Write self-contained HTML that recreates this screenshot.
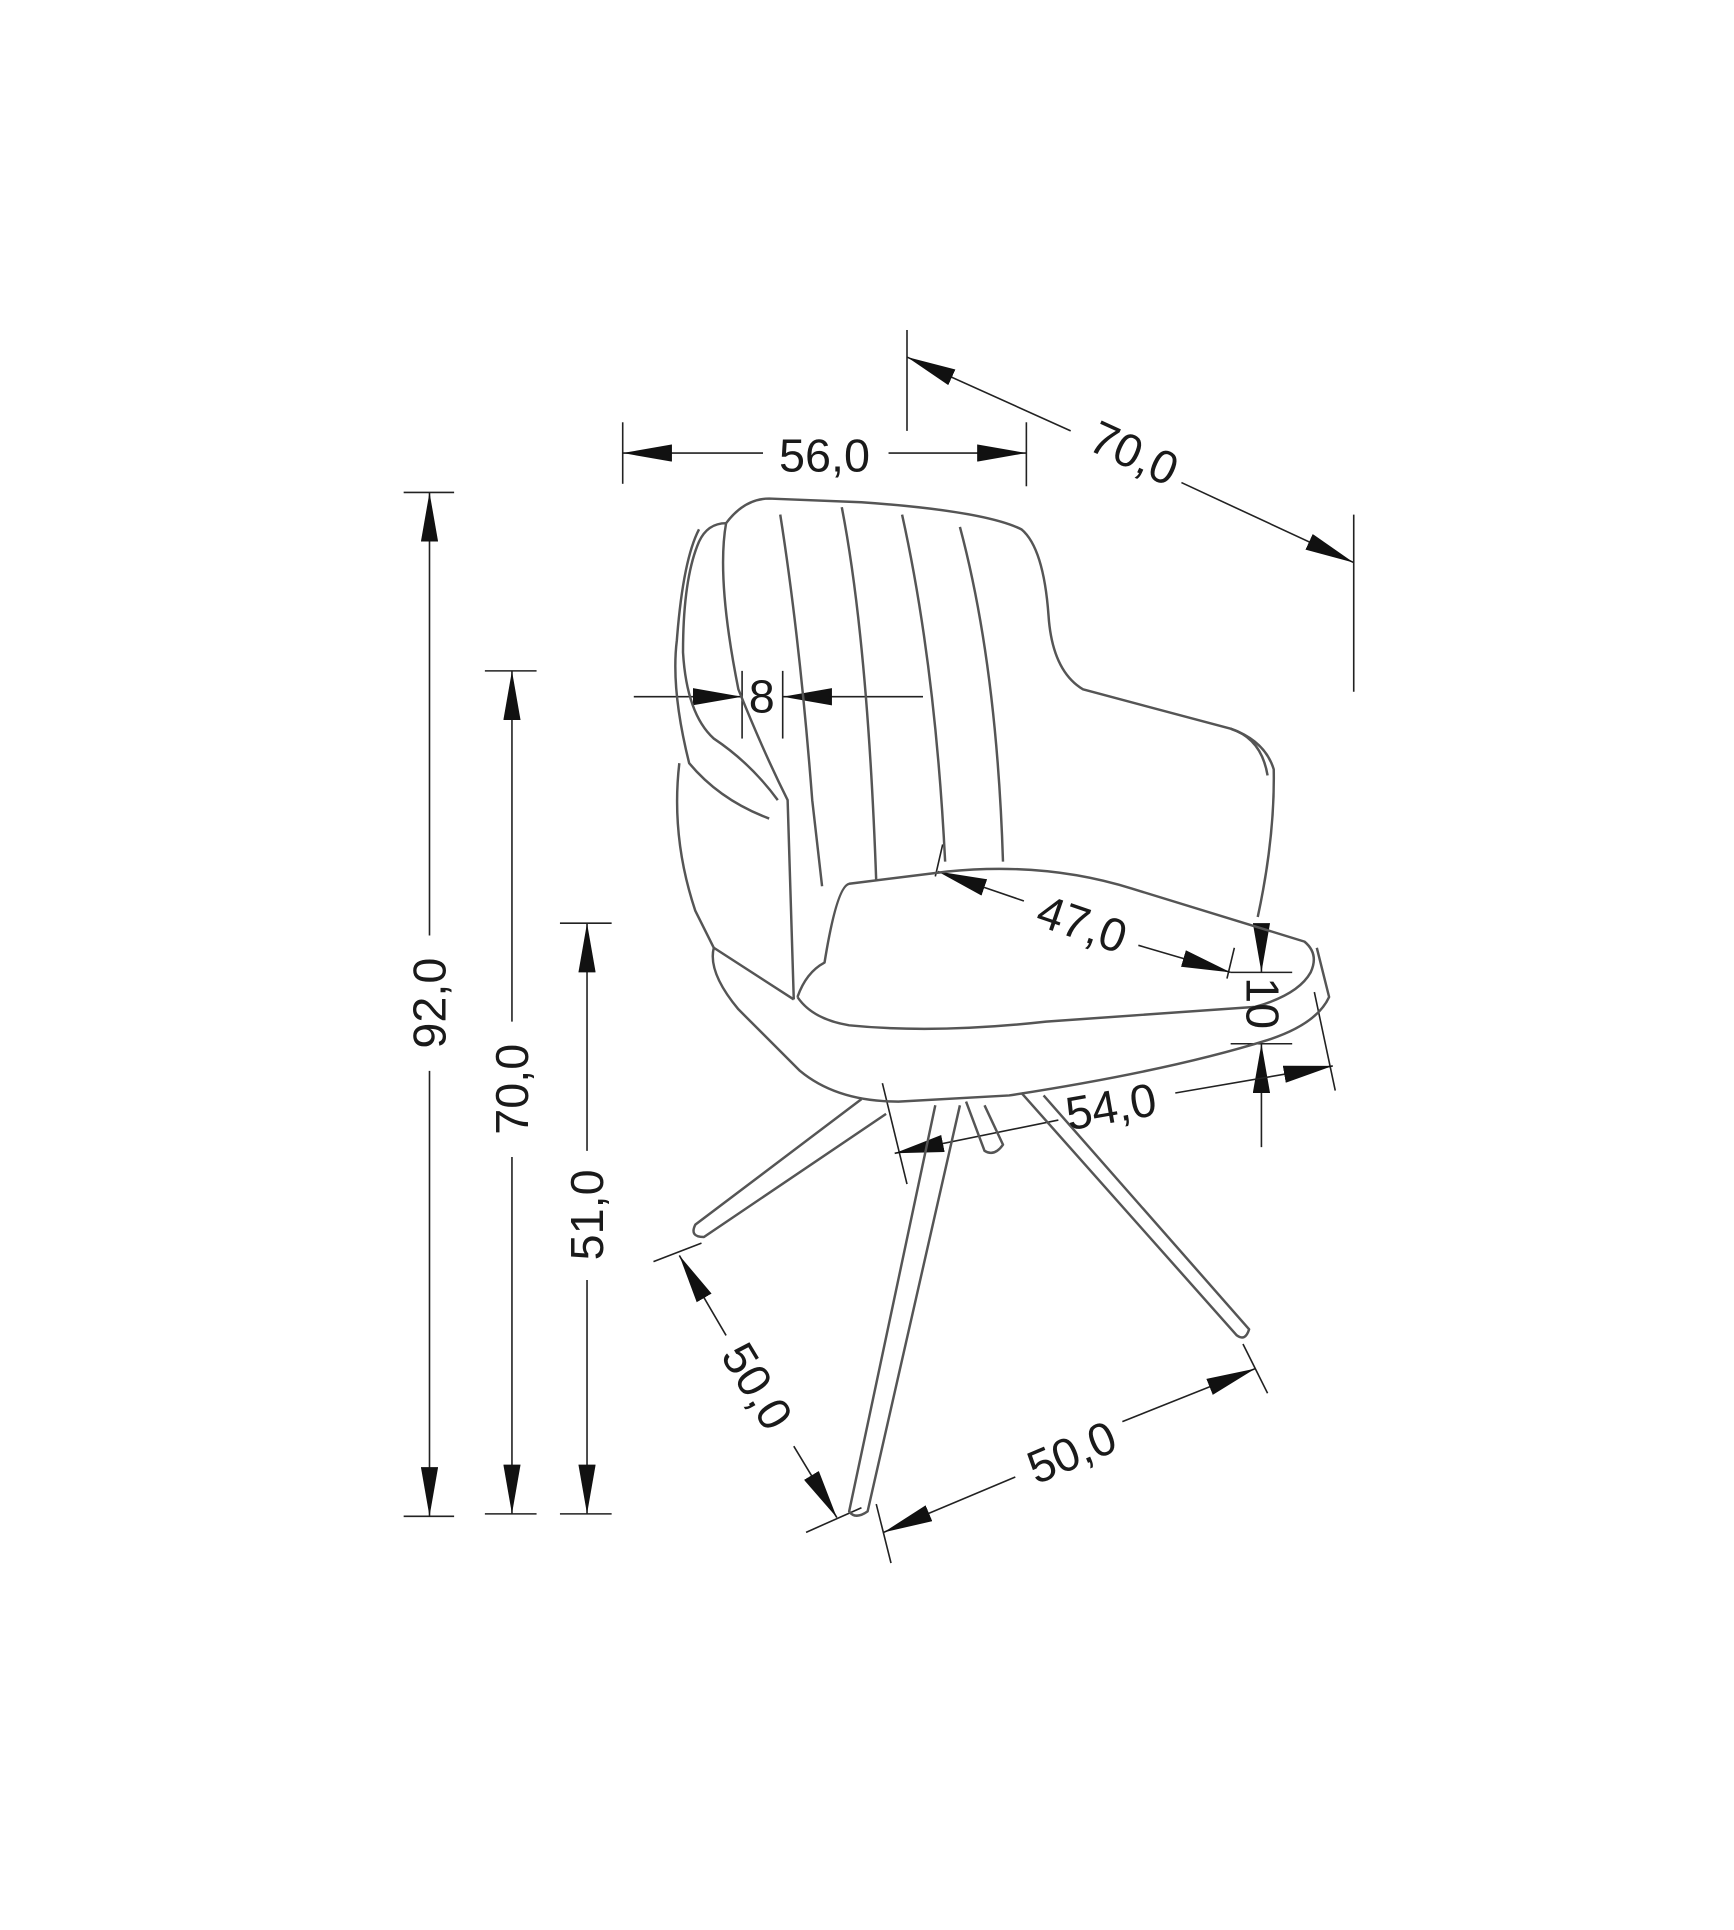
<!DOCTYPE html>
<html><head><meta charset="utf-8"><style>
html,body{margin:0;padding:0;background:#fff;}
svg{display:block;}
text{font-family:"Liberation Sans",sans-serif;font-size:38px;fill:#1a1a1a;}
</style></head><body>
<svg width="1734" height="1930" viewBox="0 0 1409 1568" xmlns="http://www.w3.org/2000/svg">
<defs>
<marker id="a" viewBox="0 0 40 14" refX="40" refY="7" markerWidth="40" markerHeight="14" markerUnits="userSpaceOnUse" orient="auto"><path d="M0,0 L40,7 L0,14 Z" fill="#111"/></marker>
</defs>
<rect width="1409" height="1568" fill="#fff"/>
<g stroke="#222" stroke-width="1.3" fill="none">
<!-- 92 -->
<line x1="328" y1="400" x2="369" y2="400"/><line x1="328" y1="1232" x2="369" y2="1232"/>
<line x1="349" y1="760" x2="349" y2="400" marker-end="url(#a)"/><line x1="349" y1="870" x2="349" y2="1232" marker-end="url(#a)"/>
<!-- 70 vertical -->
<line x1="394" y1="545" x2="436" y2="545"/><line x1="394" y1="1230" x2="436" y2="1230"/>
<line x1="416" y1="830" x2="416" y2="545" marker-end="url(#a)"/><line x1="416" y1="940" x2="416" y2="1230" marker-end="url(#a)"/>
<!-- 51 -->
<line x1="455" y1="750" x2="497" y2="750"/><line x1="455" y1="1230" x2="497" y2="1230"/>
<line x1="477" y1="935" x2="477" y2="750" marker-end="url(#a)"/><line x1="477" y1="1040" x2="477" y2="1230" marker-end="url(#a)"/>
<!-- 56 -->
<line x1="506" y1="343" x2="506" y2="393"/><line x1="834" y1="343" x2="834" y2="395"/>
<line x1="620" y1="368" x2="506" y2="368" marker-end="url(#a)"/><line x1="722" y1="368" x2="834" y2="368" marker-end="url(#a)"/>
<!-- 70 diagonal -->
<line x1="737" y1="268" x2="737" y2="350"/><line x1="1100" y1="418" x2="1100" y2="562"/>
<line x1="870" y1="350" x2="737" y2="290" marker-end="url(#a)"/><line x1="960" y1="392" x2="1100" y2="457" marker-end="url(#a)"/>
<!-- 8 -->
<line x1="603" y1="545" x2="603" y2="600"/><line x1="636" y1="545" x2="636" y2="600"/>
<line x1="515" y1="566" x2="603" y2="566" marker-end="url(#a)"/><line x1="750" y1="566" x2="636" y2="566" marker-end="url(#a)"/>
<!-- 47 -->
<line x1="766" y1="686" x2="760" y2="712"/><line x1="1003" y1="770" x2="997" y2="795"/>
<line x1="832" y1="732" x2="762" y2="708" marker-end="url(#a)"/><line x1="925" y1="768" x2="1000" y2="790" marker-end="url(#a)"/>
<!-- 10 -->
<line x1="1000" y1="790" x2="1050" y2="790"/><line x1="1000" y1="848" x2="1050" y2="848"/>
<line x1="1025" y1="755" x2="1025" y2="790" marker-end="url(#a)"/><line x1="1025" y1="932" x2="1025" y2="848" marker-end="url(#a)"/>
<!-- 54 -->
<line x1="717" y1="880" x2="737" y2="962"/><line x1="1068" y1="806" x2="1085" y2="886"/>
<line x1="860" y1="910" x2="727" y2="937" marker-end="url(#a)"/><line x1="955" y1="888" x2="1083" y2="866" marker-end="url(#a)"/>
<!-- 50 left -->
<line x1="531" y1="1025" x2="570" y2="1010"/><line x1="655" y1="1245" x2="700" y2="1225"/>
<line x1="590" y1="1085" x2="552" y2="1020" marker-end="url(#a)"/><line x1="645" y1="1175" x2="680" y2="1233" marker-end="url(#a)"/>
<!-- 50 right -->
<line x1="712" y1="1222" x2="724" y2="1270"/><line x1="1010" y1="1092" x2="1030" y2="1132"/>
<line x1="825" y1="1200" x2="718" y2="1245" marker-end="url(#a)"/><line x1="912" y1="1155" x2="1020" y2="1112" marker-end="url(#a)"/>
</g>
<!-- chair -->
<g stroke="#555" stroke-width="2" fill="none" stroke-linejoin="round">
<path d="M590,425 Q605,405 625,405 L700,408 Q800,415 830,430 Q848,445 852,500 Q855,545 880,560 L1000,592 Q1028,602 1035,625 Q1036,680 1022,745"/>
<path d="M590,425 Q582,470 600,560 Q620,610 640,650 L645,812"/>
<path d="M590,425 Q575,425 568,440 Q555,470 555,530 Q558,580 580,600 Q610,620 632,650"/>
<path d="M568,430 Q555,455 550,520 Q545,560 560,620 Q585,650 625,665"/>
<path d="M552,620 Q545,680 565,740 L580,770 L645,812"/>
<path d="M580,770 Q575,790 600,820 L650,870 Q680,895 730,895 L820,890 Q950,870 1030,845 Q1070,832 1080,810 L1070,770"/>
<path d="M648,810 Q655,790 670,782 Q680,720 690,718 L770,708 Q850,700 920,722 L1060,765 Q1072,775 1065,790 Q1055,808 1020,818 L850,830 Q760,840 690,833 Q660,828 648,810"/>
<path d="M634,418 Q650,520 660,650 L668,720"/>
<path d="M684,412 Q705,520 712,716"/>
<path d="M733,418 Q760,540 768,700"/>
<path d="M780,428 Q810,540 815,700"/>
<path d="M1000,592 Q1025,600 1030,630"/>
<!-- legs -->
<path d="M700,893 L565,995 Q560,1005 572,1005 L720,905"/>
<path d="M760,898 L690,1228 Q695,1235 705,1228 L780,898"/>
<path d="M830,888 L1005,1085 Q1012,1090 1015,1080 L848,890"/>
<path d="M785,895 L800,935 Q808,940 815,930 L800,898"/>
</g>
<text x="670" y="383" text-anchor="middle">56,0</text>
<text transform="translate(916,380) rotate(24.7)" text-anchor="middle">70,0</text>
<text x="619" y="579" text-anchor="middle">8</text>
<text transform="translate(875,763) rotate(19)" text-anchor="middle">47,0</text>
<text transform="translate(1013,815) rotate(90)" text-anchor="middle">10</text>
<text transform="translate(905,912) rotate(-10)" text-anchor="middle">54,0</text>
<text transform="translate(362,815) rotate(-90)" text-anchor="middle">92,0</text>
<text transform="translate(429,885) rotate(-90)" text-anchor="middle">70,0</text>
<text transform="translate(490,987) rotate(-90)" text-anchor="middle">51,0</text>
<text transform="translate(604,1133) rotate(59)" text-anchor="middle">50,0</text>
<text transform="translate(876,1192) rotate(-23)" text-anchor="middle">50,0</text>
</svg>
</body></html>
